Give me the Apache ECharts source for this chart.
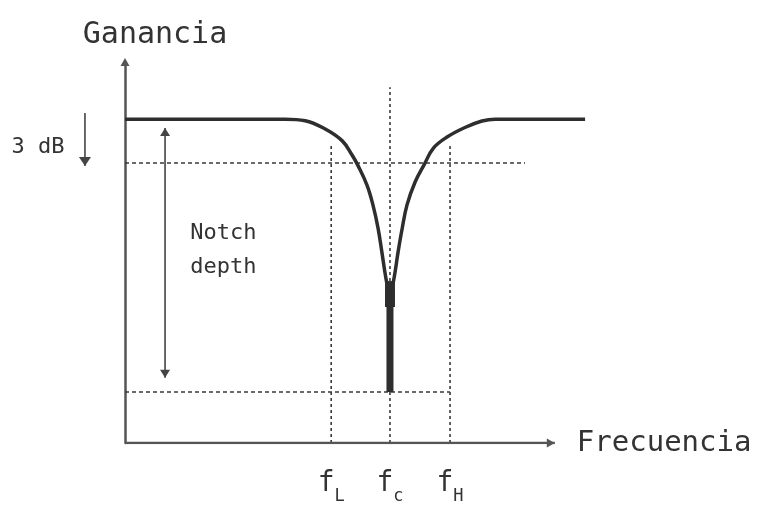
<!DOCTYPE html>
<html><head><meta charset="utf-8">
<script src="https://cdn.jsdelivr.net/npm/echarts@6/dist/echarts.min.js"></script>
<style>html,body{margin:0;padding:0;background:#fff}#c{width:759px;height:511px}</style>
</head><body><div id="c"></div>
<script>
// Gain response of a notch filter (normalised units: frequency 0..100, gain 0..100)
const leftCurve  = [[0,85.0],[37.6,85.0],[42.3,84.6],[47.0,82.4],[51.0,79.3],[53.3,75.6],[54.7,72.8],[56.8,67.7],
                    [58.2,62.5],[59.4,56.4],[60.3,50.1],[61.0,44.9],[61.5,41.7]];
const rightCurve = [[62.9,41.7],[63.4,44.9],[64.1,50.1],[65.0,55.9],[66.2,62.5],[68.1,68.5],[70.2,73.0],[72.4,77.4],
                    [75.6,80.3],[79.8,82.8],[83.8,84.5],[86.9,85.0],[108.0,85.0]];
const fL = 48.4, fC = 62.2, fH = 76.3;
const freqTicks = [fL, fC, fH];
const freqTickSubs = ['L', 'c', 'H'];
const level3dB = 73.5;       // -3 dB level
const levelNotch = 13.4;     // bottom of the notch
const stemTop = 42.5, stemMid = 35.7;
const xAxisEnd = 100.9;
const arrow3dB = [[-9.4, 86.6], [-9.4, 72.7]];
const arrowDepth = [[9.4, 82.7], [9.4, 17.1]];
const label3dB = [-20.4, 77.7];
const labelDepth = [[15.3, 55.1, 'Notch'], [15.3, 46.2, 'depth']];

const MONO = '"DejaVu Sans Mono", monospace';
const INK = '#333';
const dash = (data, type) => ({
  type: 'line', data, symbol: 'none', silent: true,
  lineStyle: { color: '#3a3a3a', width: 1.6, type: type || [4, 3] }, z: 1
});
const arrowSeries = (pts, both) => ({
  type: 'line', silent: true, showSymbol: true, z: 3,
  lineStyle: { color: '#444', width: 1.6 }, itemStyle: { color: '#444' },
  data: [
    both ? { value: pts[0], symbol: 'triangle', symbolSize: [10, 8], symbolOffset: [0, 4] }
         : { value: pts[0], symbol: 'none' },
    { value: pts[1], symbol: 'triangle', symbolSize: both ? [10, 8] : [12, 9], symbolRotate: 180, symbolOffset: [0, both ? -4 : -4.5] }
  ]
});

const chart = echarts.init(document.getElementById('c'));
chart.setOption({
  animation: false,
  backgroundColor: '#fff',
  grid: { left: 18.5, right: 165.4, top: 62, bottom: 68, outerBoundsMode: 'none' },
  xAxis: {
    type: 'value', min: -25, max: 110,
    axisLine: { show: false },
    axisTick: { show: false }, splitLine: { show: false },
    axisLabel: {
      customValues: freqTicks, margin: 27, verticalAlign: 'top', align: 'center',
      formatter: v => '{f|f}{s|' + freqTickSubs[freqTicks.indexOf(v)] + '}',
      rich: {
        f: { fontFamily: MONO, fontSize: 28, lineHeight: 30, color: INK, verticalAlign: 'top' },
        s: { fontFamily: MONO, fontSize: 17, lineHeight: 17, color: INK, verticalAlign: 'top', padding: [18, 0, 0, 0] }
      }
    }
  },
  yAxis: {
    type: 'value', min: 0, max: 100,
    name: 'Ganancia', nameLocation: 'end', nameGap: 12,
    nameTextStyle: { fontFamily: MONO, fontSize: 30, color: INK, padding: [0, 0, 0, 60] },
    axisLine: { show: true, onZero: true, lineStyle: { color: '#555', width: 2.5 }, symbol: ['none', 'triangle'], symbolSize: [9, 8] },
    axisTick: { show: false }, splitLine: { show: false }, axisLabel: { show: false }
  },
  series: [
    { // frequency axis line with arrow
      type: 'line', silent: true, z: 2,
      lineStyle: { color: '#555', width: 2.5 }, itemStyle: { color: '#555' },
      data: [{ value: [0, 0], symbol: 'none' },
             { value: [xAxisEnd, 0], symbol: 'triangle', symbolSize: [9, 8], symbolRotate: -90, symbolOffset: [-4, 0] }],
      endLabel: { show: true, formatter: 'Frecuencia', distance: 22, fontFamily: MONO, fontSize: 29, color: INK, padding: [8, 0, 0, 0] }
    },
    dash([[0, level3dB], [93.9, level3dB]]),
    dash([[0, levelNotch], [fH, levelNotch]]),
    dash([[fL, 0], [fL, 78.7]], [3, 3]),
    dash([[fC, 0], [fC, 93.4]], [3, 3]),
    dash([[fH, 0], [fH, 78.7]], [3, 3]),
    { type: 'line', data: leftCurve, symbol: 'none', smooth: 0.4, silent: true, z: 4,
      lineStyle: { color: '#2e2e2e', width: 3.5 } },
    { type: 'line', data: rightCurve, symbol: 'none', smooth: 0.4, silent: true, z: 4,
      lineStyle: { color: '#2e2e2e', width: 3.5 } },
    { type: 'line', data: [[fC, stemTop], [fC, stemMid]], symbol: 'none', silent: true, z: 4,
      lineStyle: { color: '#2e2e2e', width: 10, cap: 'butt' } },
    { type: 'line', data: [[fC, stemMid + 1], [fC, levelNotch]], symbol: 'none', silent: true, z: 4,
      lineStyle: { color: '#2e2e2e', width: 7, cap: 'butt' } },
    arrowSeries(arrow3dB, false),
    arrowSeries(arrowDepth, true)
  ]
});

const px = p => chart.convertToPixel({ xAxisIndex: 0, yAxisIndex: 0 }, p);
const p3 = px(label3dB);
const graphics = [{
  type: 'text', x: p3[0], y: p3[1], silent: true,
  style: { text: '3 dB', fontFamily: MONO, fontSize: 22, fill: INK, align: 'center', verticalAlign: 'middle' }
}];
labelDepth.forEach(d => {
  const p = px([d[0], d[1]]);
  graphics.push({ type: 'text', x: p[0], y: p[1], silent: true,
    style: { text: d[2], fontFamily: MONO, fontSize: 22, fill: INK, align: 'left', verticalAlign: 'middle' } });
});
chart.setOption({ graphic: graphics });
</script></body></html>
